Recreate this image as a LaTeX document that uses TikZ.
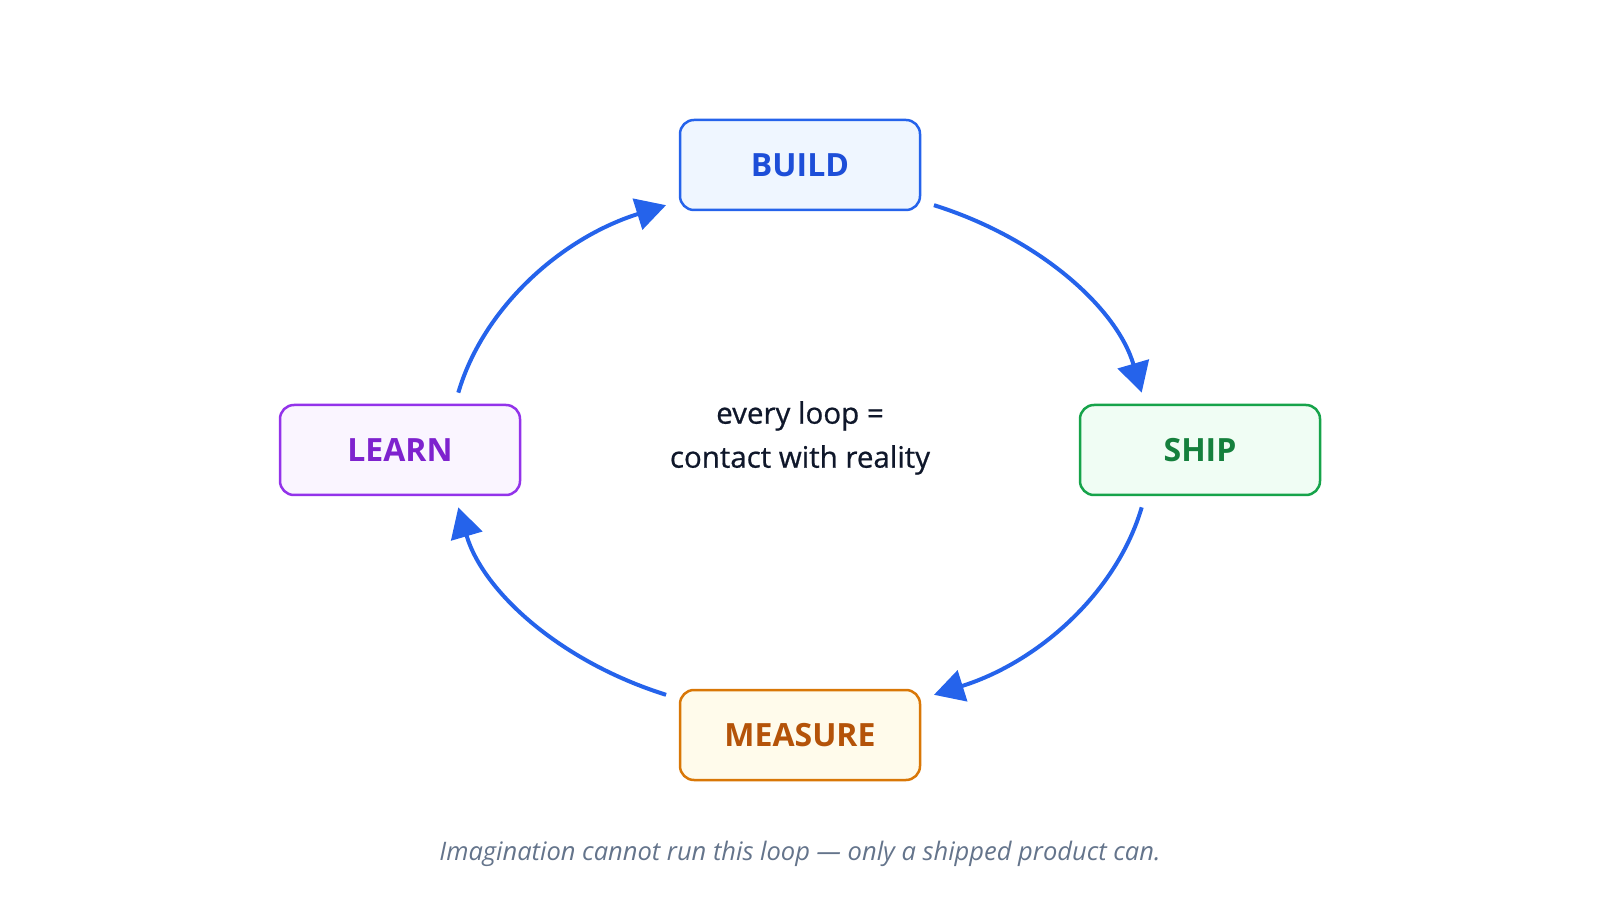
\documentclass[tikz,border=0pt]{standalone}
\usepackage{fontspec}
\setmainfont{Open Sans}
\newfontfamily\mottofont{Open Sans}[FakeBold=0.7]
\usetikzlibrary{arrows.meta,positioning}
\definecolor{loopblue}{HTML}{2563EB}
\definecolor{buildfill}{HTML}{EFF6FF}
\definecolor{buildtext}{HTML}{1D4ED8}
\definecolor{shipline}{HTML}{16A34A}
\definecolor{shipfill}{HTML}{F0FDF4}
\definecolor{shiptext}{HTML}{15803D}
\definecolor{learnline}{HTML}{9333EA}
\definecolor{learnfill}{HTML}{FAF5FF}
\definecolor{learntext}{HTML}{7E22CE}
\definecolor{measline}{HTML}{D97706}
\definecolor{measfill}{HTML}{FFFBEB}
\definecolor{meastext}{HTML}{B45309}
\definecolor{ink}{HTML}{0F172A}
\definecolor{slate}{HTML}{64748B}

\begin{document}
\begin{tikzpicture}[x=1pt, y=1pt,
      every node/.style={font=\fontsize{28.5}{44}\selectfont},
      stage/.style={draw, rounded corners=14pt, line width=2.5pt, align=center,
                    minimum width=240pt, minimum height=90pt,
                    font=\fontsize{32}{40}\selectfont\bfseries},
      arrow/.style={-{Triangle[length=30pt, width=32pt]}, line width=4pt, draw=loopblue}
    ]
    \useasboundingbox (0,0) rectangle (1600,900);
    \coordinate (hub) at (800,450);

    \node[stage, draw=loopblue, fill=buildfill, text=buildtext]   (build)   at (800,735) {BUILD};
    \node[stage, draw=shipline, fill=shipfill, text=shiptext]     (ship)    at (1200,450) {SHIP};
    \node[stage, draw=measline, fill=measfill, text=meastext]     (measure) at (800,165) {MEASURE};
    \node[stage, draw=learnline, fill=learnfill, text=learntext]  (learn)   at (400,450) {LEARN};

    \node[align=center, text=ink, font=\fontsize{29.5}{44}\selectfont\mottofont] (motto) at (800,462)
      {every loop =\\contact with reality};
    \node[font=\fontsize{25.5}{30}\selectfont\itshape, text=slate] (caption) at (800,46)
      {Imagination cannot run this loop --- only a shipped product can.};

    % the loop, one quarter per step
    \draw[arrow] ([shift={(67.5:350 and 265)}]hub)   arc[start angle=67.5,   end angle=12.5,   x radius=350, y radius=265];
    \draw[arrow] ([shift={(-12.5:350 and 265)}]hub)  arc[start angle=-12.5,  end angle=-67.5,  x radius=350, y radius=265];
    \draw[arrow] ([shift={(-112.5:350 and 265)}]hub) arc[start angle=-112.5, end angle=-167.5, x radius=350, y radius=265];
    \draw[arrow] ([shift={(167.5:350 and 265)}]hub)  arc[start angle=167.5,  end angle=112.5,  x radius=350, y radius=265];
  \end{tikzpicture}
\end{document}
